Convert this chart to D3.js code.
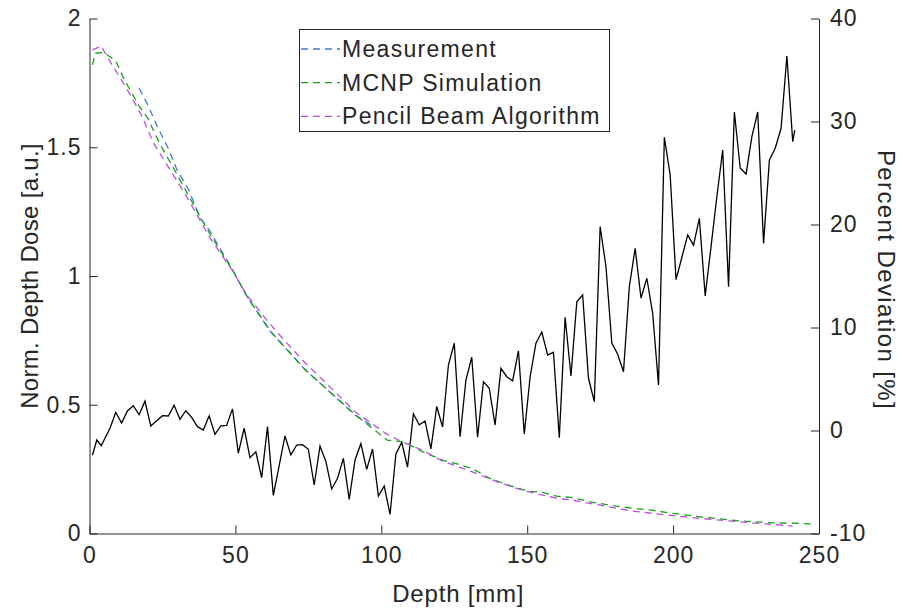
<!DOCTYPE html>
<html>
<head>
<meta charset="utf-8">
<script src="https://cdn.jsdelivr.net/npm/d3@7"></script>
<style>
  body { margin: 0; background: #fff; }
  text { font-family: "Liberation Sans", Arial, sans-serif; fill: #262626; }
</style>
</head>
<body>
<svg id="chart" width="907" height="613"></svg>
<script>
// depth in mm for the deviation curve (black, right axis)
const dev_depth = [1, 2.5, 4, 7, 9, 11, 13, 15, 17, 19, 21, 23, 25, 27, 29, 31, 33, 35, 37, 39,
	41, 43, 45, 47, 49, 51, 53, 55, 57, 59, 61, 63, 65, 67, 69, 71, 73, 75, 77, 79,
	81, 83, 85, 87, 89, 91, 93, 95, 97, 99, 101, 103, 105, 107, 109, 111, 113, 115, 117, 119,
	121, 123, 125, 127, 129, 131, 133, 135, 137, 139, 141, 143, 145, 147, 149, 151, 153, 155, 157, 159,
	161, 163, 165, 167, 169, 171, 173, 175, 177, 179, 181, 183, 185, 187, 189, 191, 193, 195, 197, 199,
	201, 203, 205, 207, 209, 211, 213, 215, 217, 219, 221, 223, 225, 227, 229, 231, 233, 235, 237, 239,
	241, 241.7];
const dev_values = [-2.4, -0.92, -1.48, 0.2, 1.77, 0.73, 1.9, 2.41, 1.53, 2.85, 0.44, 0.95, 1.44, 1.41, 2.45, 1.09, 1.92, 1.28, 0.37, 0.05,
	1.42, -0.37, 0.44, 0.5, 2.1, -2.2, 0.22, -2.64, -2.07, -4.58, 0.38, -6.3, -3.4, -0.52, -2.37, -1.41, -1.38, -1.82, -5.29, -1.5,
	-3.0, -5.68, -4.64, -2.7, -6.68, -2.86, -1.28, -3.77, -1.8, -6.36, -5.39, -8.14, -2.28, -1.15, -3.57, 1.62, 0.55, 0.92, -1.78, 2.33,
	0.34, 6.36, 8.47, -0.6, 4.9, 7.11, -0.66, 4.74, 4.1, 0.53, 6.04, 5.22, 4.81, 7.72, -0.34, 5.22, 8.47, 9.56, 7.33, 7.59,
	-0.7, 11.0, 5.29, 12.5, 13.16, 5.07, 2.8, 19.79, 15.9, 8.5, 7.4, 5.71, 13.96, 17.69, 12.85, 14.78, 11.38, 4.42, 28.47, 24.8,
	14.65, 16.8, 18.98, 18.0, 20.6, 13.06, 17.85, 22.7, 27.23, 13.96, 30.92, 25.46, 24.9, 28.53, 30.92, 18.17, 26.26, 27.4, 29.34, 36.36,
	28.04, 29.17];

// measurement (blue)
const meas_depth = [17, 20, 23.5, 27, 30, 34, 38, 41, 49, 54, 62, 74, 81, 91, 98];
const meas_values = [1.729, 1.664, 1.574, 1.496, 1.412, 1.334, 1.224, 1.179, 1.025, 0.92, 0.784, 0.635, 0.564, 0.46, 0.41];

// MCNP simulation (green)
const mcnp_depth = [1, 2, 5, 9, 12, 17, 20, 24, 29, 36, 41, 49, 54, 62, 74, 81, 91, 102, 108, 114,
	121, 126, 131, 137, 143, 150, 155, 160, 165, 172, 180, 186, 193, 200, 209, 215, 222, 232, 240, 249];
const mcnp_values = [1.82, 1.865, 1.868, 1.835, 1.761, 1.66, 1.612, 1.515, 1.415, 1.269, 1.168, 1.023, 0.92, 0.786, 0.635, 0.564, 0.462, 0.363, 0.355, 0.318,
	0.285, 0.27, 0.253, 0.215, 0.19, 0.165, 0.16, 0.145, 0.14, 0.122, 0.107, 0.098, 0.09, 0.078, 0.065, 0.058, 0.05, 0.042, 0.04, 0.037];

// pencil beam algorithm (purple)
const pba_depth = [1, 4, 8, 11, 15, 18, 22, 27, 34, 41, 49, 54, 61, 66, 74, 81, 91, 102, 107, 114,
	121, 131, 141, 149, 160, 164, 175, 186, 198, 209, 220, 232, 241];
const pba_values = [1.878, 1.893, 1.815, 1.761, 1.683, 1.62, 1.515, 1.424, 1.295, 1.153, 1.02, 0.925, 0.825, 0.76, 0.661, 0.585, 0.473, 0.385, 0.357, 0.324,
	0.281, 0.24, 0.195, 0.166, 0.137, 0.132, 0.11, 0.087, 0.072, 0.059, 0.048, 0.037, 0.029];

const legend_labels = ["Measurement", "MCNP Simulation", "Pencil Beam Algorithm"];
const series_colors = ["#3d7bd6", "#17a317", "#bd4ee0"];
const x_ticks = [0, 50, 100, 150, 200, 250];
const left_ticks = [0, 0.5, 1, 1.5, 2];
const right_ticks = [-10, 0, 10, 20, 30, 40];

const svg = d3.select("#chart");
const plot_left = 89.5, plot_right = 819, plot_top = 18.5, plot_bottom = 533.5;

const x = d3.scaleLinear().domain([0, 250]).range([plot_left, plot_right]);
const y_left = d3.scaleLinear().domain([0, 2]).range([plot_bottom, plot_top]);
const y_right = d3.scaleLinear().domain([-10, 40]).range([plot_bottom, plot_top]);

function style_axis(g) {
	g.select(".domain").attr("stroke", "#262626").attr("stroke-width", 1);
	g.selectAll(".tick line").attr("stroke", "#262626");
	g.selectAll(".tick text").attr("font-size", 23).attr("fill", "#262626")
		.attr("letter-spacing", 1)
		.attr("font-family", "Liberation Sans, Arial, sans-serif");
}

svg.append("g")
	.attr("transform", "translate(0," + plot_bottom + ")")
	.call(d3.axisBottom(x).tickValues(x_ticks).tickSizeInner(-8).tickSizeOuter(0).tickPadding(13)
		.tickFormat(d => String(d)))
	.call(style_axis);

svg.append("g")
	.attr("transform", "translate(" + plot_left + ",0)")
	.call(d3.axisLeft(y_left).tickValues(left_ticks).tickSizeInner(-8).tickSizeOuter(0).tickPadding(8)
		.tickFormat(d => String(d)))
	.call(style_axis);

svg.append("g")
	.attr("transform", "translate(" + plot_right + ",0)")
	.call(d3.axisRight(y_right).tickValues(right_ticks).tickSizeInner(-8).tickSizeOuter(0).tickPadding(11)
		.tickFormat(d => String(d)))
	.call(style_axis);

// axis titles
svg.append("text")
	.attr("x", (plot_left + plot_right) / 2 + 4).attr("y", 602)
	.attr("text-anchor", "middle").attr("font-size", 24).attr("letter-spacing", 0.8)
	.text("Depth [mm]");

svg.append("text")
	.attr("transform", "translate(38," + ((plot_top + plot_bottom) / 2) + ") rotate(-90)")
	.attr("text-anchor", "middle").attr("font-size", 24).attr("letter-spacing", 0.3)
	.text("Norm. Depth Dose [a.u.]");

svg.append("text")
	.attr("transform", "translate(878," + ((plot_top + plot_bottom) / 2 + 4) + ") rotate(90)")
	.attr("text-anchor", "middle").attr("font-size", 24).attr("letter-spacing", 1.4)
	.text("Percent Deviation [%]");

// deviation line
const dev_line = d3.line().x((d, i) => x(dev_depth[i])).y(d => y_right(d));
svg.append("path")
	.datum(dev_values)
	.attr("d", dev_line)
	.attr("fill", "none")
	.attr("stroke", "#000")
	.attr("stroke-width", 1.3)
	.attr("stroke-linejoin", "miter");

// dose curves
const dose_series = [
	{ depth: meas_depth, values: meas_values },
	{ depth: mcnp_depth, values: mcnp_values },
	{ depth: pba_depth, values: pba_values }
];

dose_series.forEach((s, k) => {
	const line = d3.line().x((d, i) => x(s.depth[i])).y(d => y_left(d));
	svg.append("path")
		.datum(s.values)
		.attr("d", line)
		.attr("fill", "none")
		.attr("stroke", series_colors[k])
		.attr("stroke-width", 1.3)
		.attr("stroke-dasharray", "7,5");
});

// legend
const legend = svg.append("g");
legend.append("rect")
	.attr("x", 299.5).attr("y", 29.5).attr("width", 310).attr("height", 102)
	.attr("fill", "#fff").attr("stroke", "#262626").attr("stroke-width", 1);

legend_labels.forEach((label, k) => {
	const cy = 49 + k * 33.7;
	legend.append("line")
		.attr("x1", 301).attr("x2", 340).attr("y1", cy).attr("y2", cy)
		.attr("stroke", series_colors[k]).attr("stroke-width", 1.3)
		.attr("stroke-dasharray", "7,5");
	legend.append("text")
		.attr("x", 342).attr("y", cy + 8)
		.attr("font-size", 23)
		.attr("letter-spacing", 1.3)
		.text(label);
});
</script>
</body>
</html>
